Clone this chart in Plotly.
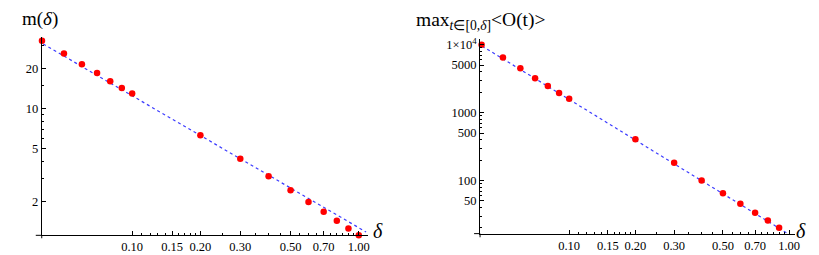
import plotly.graph_objects as go

# ---- data ----
delta = [0.04, 0.05, 0.06, 0.07, 0.08, 0.09, 0.1, 0.2, 0.3, 0.4, 0.5, 0.6, 0.7, 0.8, 0.9, 1.0]
m_delta = [32.4, 26.0, 21.6, 18.5, 16.1, 14.3, 13.0, 6.33, 4.21, 3.11, 2.44, 1.99, 1.68, 1.44, 1.26, 1.12]
max_O = [10000, 6480, 4490, 3210, 2460, 1950, 1595, 406, 182, 100, 64.8, 45.3, 33.6, 25.7, 20.1, 16.5]

# dashed power-law fit lines (end points)
fit_delta_left = [0.0405, 1.077]
fit_m = [30.6, 1.186]
fit_delta_right = [0.0402, 1.046]
fit_O = [9544, 14.7]

x_tick_vals = [0.1, 0.15, 0.2, 0.3, 0.5, 0.7, 1.0]
x_tick_text = ["0.10", "0.15", "0.20", "0.30", "0.50", "0.70", "1.00"]
x_minor_vals = [0.11, 0.12, 0.13, 0.14, 0.16, 0.17, 0.18, 0.19, 0.25, 0.35, 0.4, 0.45,
                0.55, 0.6, 0.65, 0.75, 0.8, 0.85, 0.9, 0.95]
yl_tick_vals = [2, 5, 10, 20]
yl_tick_text = ["2", "5", "10", "20"]
yl_minor_vals = [3, 4, 6, 7, 8, 9, 15, 30]
yr_tick_vals = [50, 100, 500, 1000, 5000, 10000]
yr_tick_text = ["50", "100", "500", "1000", "5000", "1\u00d710<sup>4</sup>"]
yr_minor_vals = [20, 30, 40, 60, 70, 80, 90, 200, 300, 400, 600, 700, 800, 900,
                 2000, 3000, 4000, 6000, 7000, 8000, 9000]

W, H = 819, 255
FONT = "Liberation Serif"
LINE_COLOR = "#3c3cff"

fig = go.Figure()

fig.add_trace(go.Scatter(x=fit_delta_left, y=fit_m, mode="lines",
                         line=dict(color=LINE_COLOR, width=1.2, dash="3px,3px"),
                         xaxis="x", yaxis="y", showlegend=False, hoverinfo="skip"))
fig.add_trace(go.Scatter(x=delta, y=m_delta, mode="markers",
                         marker=dict(color="#ff0000", size=6.5),
                         cliponaxis=False, xaxis="x", yaxis="y", showlegend=False))
fig.add_trace(go.Scatter(x=fit_delta_right, y=fit_O, mode="lines",
                         line=dict(color=LINE_COLOR, width=1.2, dash="3px,3px"),
                         xaxis="x2", yaxis="y2", showlegend=False, hoverinfo="skip"))
fig.add_trace(go.Scatter(x=delta, y=max_O, mode="markers",
                         marker=dict(color="#ff0000", size=6.5),
                         cliponaxis=False, xaxis="x2", yaxis="y2", showlegend=False))


def px_x(p):
    return p / W


def px_y(p):
    return 1 - p / H


tickfont = dict(family=FONT, size=12.5, color="black")

common_axis = dict(type="log", showgrid=False, zeroline=False, showline=True,
                   linecolor="black", linewidth=1, ticks="inside", ticklen=4,
                   tickcolor="black", tickwidth=1, tickfont=tickfont,
                   tickmode="array")

fig.update_layout(
    width=W, height=H,
    margin=dict(l=0, r=0, t=0, b=0),
    paper_bgcolor="white", plot_bgcolor="white",
    xaxis=dict(common_axis, domain=[px_x(42), px_x(370)], range=[-1.399, 0.0395],
               anchor="y", tickvals=x_tick_vals, ticktext=x_tick_text,
               minor=dict(tickvals=x_minor_vals, ticks="inside", ticklen=2,
                          tickcolor="black")),
    yaxis=dict(common_axis, domain=[px_y(235), px_y(33.3)], range=[0.049, 1.540],
               anchor="x", tickvals=yl_tick_vals, ticktext=yl_tick_text,
               minor=dict(tickvals=yl_minor_vals, ticks="inside", ticklen=2,
                          tickcolor="black")),
    xaxis2=dict(common_axis, domain=[px_x(483), px_x(800)], range=[-1.405, 0.027],
                anchor="y2", tickvals=x_tick_vals, ticktext=x_tick_text,
                minor=dict(tickvals=x_minor_vals, ticks="inside", ticklen=2,
                           tickcolor="black")),
    yaxis2=dict(common_axis, domain=[px_y(233.3), px_y(36)], range=[1.2175, 4.077],
                anchor="x2", tickvals=yr_tick_vals, ticktext=yr_tick_text,
                minor=dict(tickvals=yr_minor_vals, ticks="inside", ticklen=2,
                           tickcolor="black")),
)

# small axis extensions past the crossing point (Mathematica style)
ext = [
    (36, 235, 42, 235), (42, 235, 42, 238),
    (477, 233.3, 483, 233.3), (483, 233.3, 483, 237),
]
for x0, y0, x1, y1 in ext:
    fig.add_shape(type="line", xref="paper", yref="paper",
                  x0=px_x(x0), y0=px_y(y0), x1=px_x(x1), y1=px_y(y1),
                  line=dict(color="black", width=1))

# titles and axis labels
fig.add_annotation(text="m(<i>\u03b4</i>)", xref="paper", yref="paper",
                   x=px_x(40), y=px_y(15), showarrow=False,
                   xanchor="center", yanchor="middle",
                   font=dict(family=FONT, size=19, color="black"))
fig.add_annotation(text="max<sub><i>t</i>\u2208[0,<i>\u03b4</i>]</sub>&lt;O(t)&gt;",
                   xref="paper", yref="paper",
                   x=px_x(417), y=px_y(17), showarrow=False,
                   xanchor="left", yanchor="middle",
                   font=dict(family=FONT, size=19.5, color="black"))
fig.add_annotation(text="<i>\u03b4</i>", xref="paper", yref="paper",
                   x=px_x(380), y=px_y(231), showarrow=False,
                   xanchor="center", yanchor="middle",
                   font=dict(family=FONT, size=20, color="black"))
fig.add_annotation(text="<i>\u03b4</i>", xref="paper", yref="paper",
                   x=px_x(806), y=px_y(231), showarrow=False,
                   xanchor="center", yanchor="middle",
                   font=dict(family=FONT, size=20, color="black"))

fig.write_html("out.html",
               config={"displayModeBar": False},
               post_script="document.body.style.margin='0px';document.body.style.padding='0px';")
